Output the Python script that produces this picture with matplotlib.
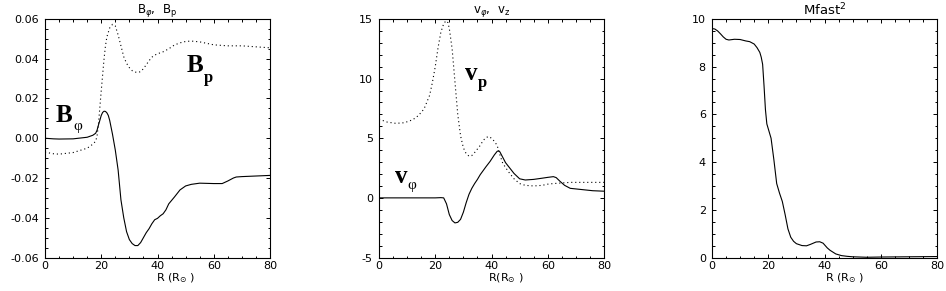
import matplotlib
matplotlib.use("Agg")
import matplotlib.pyplot as plt
from matplotlib.ticker import MultipleLocator, FormatStrFormatter

# ---------------- data ----------------
r1 = [0, 3, 5, 10, 15, 17, 18, 18.5, 19, 19.5, 20, 20.5, 21, 21.5, 22, 22.5, 23, 24, 25, 26,
      27, 28, 29, 30, 31, 32, 33, 34, 35, 36, 37, 38, 39, 40, 41, 42, 43, 44, 46, 48, 50,
      52, 55, 60, 63, 65, 67, 68, 70, 75, 80]
b_phi = [0.0, -0.0003, -0.0004, -0.0003, 0.0005, 0.0015, 0.0025, 0.004, 0.0066, 0.009, 0.0115,
         0.013, 0.0136, 0.0135, 0.0128, 0.0115, 0.009, 0.002, -0.006, -0.016,
         -0.031, -0.040, -0.047, -0.051, -0.053, -0.054, -0.054, -0.0525, -0.050, -0.0475,
         -0.0455, -0.043, -0.041, -0.0403, -0.039, -0.038, -0.036, -0.033, -0.0296, -0.026, -0.024,
         -0.0232, -0.0226, -0.0228, -0.0228, -0.0215, -0.020, -0.0195, -0.0193, -0.019, -0.0187]

r1p = [0, 3, 5, 10, 15, 17, 18, 18.5, 19, 19.5, 20, 20.5, 21, 21.5, 22, 23, 24, 25, 26, 27, 28,
       29, 30, 31, 32, 33, 34, 35, 36, 37, 38, 39, 40, 42, 44, 46, 48, 50, 52, 55, 60, 65,
       70, 75, 80]
b_p = [-0.007, -0.0078, -0.008, -0.0072, -0.005, -0.003, -0.0015, 0.001, 0.007, 0.0155, 0.024,
       0.032, 0.040, 0.0465, 0.051, 0.0555, 0.0573, 0.0565, 0.052, 0.0465, 0.041,
       0.0377, 0.0355, 0.034, 0.0333, 0.0331, 0.0335, 0.035, 0.037, 0.039, 0.0408, 0.0418,
       0.0425, 0.0435, 0.045, 0.0469, 0.048, 0.0487, 0.0489, 0.0485, 0.047, 0.0465,
       0.0465, 0.046, 0.0455]

r2p = [0, 3, 6, 9, 12, 14, 16, 18, 19, 20, 21, 22, 23, 23.8, 24.5, 25, 26, 27, 28, 29, 30, 31,
       32, 33, 34, 35, 36, 37, 38, 39, 40, 41, 42, 43, 44, 46, 48, 50, 52, 55, 58, 60, 62,
       65, 68, 72, 76, 80]
v_p = [6.6, 6.35, 6.25, 6.3, 6.55, 6.9, 7.45, 8.6, 9.7, 11.0, 12.6, 13.9, 14.6, 14.85, 14.7,
       14.2, 12.5, 9.75, 7.0, 5.2, 4.2, 3.7, 3.5, 3.55, 3.8, 4.1, 4.4, 4.8, 5.05, 5.15, 5.0,
       4.75, 4.4, 3.6, 2.9, 2.2, 1.6, 1.2, 1.05, 1.0, 1.05, 1.15, 1.2, 1.25, 1.3, 1.3,
       1.3, 1.3]

r2 = [0, 10, 20, 22, 23, 24, 25, 26, 27, 28, 29, 30, 31, 32, 33, 34, 35, 36, 38, 39.5, 41, 42,
      42.5, 43, 44, 45, 46, 48, 50, 52, 55, 58, 60, 62, 63, 64.4, 66, 68, 70, 72, 76, 80]
v_phi = [0, 0, 0, 0.02, 0, -0.5, -1.4, -1.9, -2.1, -2.05, -1.8, -1.2, -0.4, 0.3, 0.8, 1.2,
         1.55, 1.95, 2.6, 3.06, 3.6, 3.9, 3.95, 3.85, 3.4, 2.95, 2.65, 2.05, 1.6, 1.5, 1.55,
         1.65, 1.72, 1.78, 1.7, 1.38, 1.05, 0.8, 0.75, 0.7, 0.6, 0.56]

r3 = [0, 1, 2, 3, 4, 5, 6, 8, 10, 12, 13.4, 15, 16, 17, 17.5, 18, 18.5, 19, 19.5, 20, 21, 22,
      23, 24, 25, 26, 27, 28, 29, 30, 32, 33.6, 35, 37, 38.3, 39.5, 41, 42, 44, 46, 48, 50,
      55, 60, 70, 80]
mfast2 = [9.6, 9.58, 9.5, 9.38, 9.25, 9.15, 9.12, 9.15, 9.14, 9.08, 9.05, 8.95, 8.8, 8.6, 8.4,
          8.1, 7.2, 6.2, 5.6, 5.4, 5.0, 4.1, 3.1, 2.7, 2.35, 1.8, 1.2, 0.85, 0.68, 0.58, 0.5,
          0.49, 0.55, 0.65, 0.66, 0.6, 0.4, 0.3, 0.15, 0.08, 0.05, 0.03, 0.01, 0.02, 0.03, 0.04]

x_ticks = [0, 20, 40, 60, 80]
titles = [r'B$_{\varphi}$,  B$_{\rm p}$', r'v$_{\varphi}$,  v$_{\rm z}$', r'Mfast$^2$']
xlabels = [r'R (R$_{\odot}$ )', r'R(R$_{\odot}$ )', r'R (R$_{\odot}$ )']

# ---------------- figure ----------------
W, H = 946, 291
fig = plt.figure(figsize=(W / 100, H / 100), dpi=100)
plt.rcParams['font.family'] = ['DejaVu Sans']

lefts = [45, 379, 712]
top_px, bot_px, width_px = 19, 257.5, 225
axes = []
for lp in lefts:
    ax = fig.add_axes([lp / W, 1 - bot_px / H, width_px / W, (bot_px - top_px) / H])
    axes.append(ax)

dotted = (0, (1, 2.6))
lw = 0.8
serif = 'Liberation Serif'

def style(ax, ylim, ymaj, ymin, fmt, title, xlabel, tsize=8.5, xoff=0.08):
    ax.set_xlim(0, 80)
    ax.set_ylim(*ylim)
    ax.set_xticks(x_ticks)
    ax.xaxis.set_minor_locator(MultipleLocator(5))
    ax.yaxis.set_major_locator(MultipleLocator(ymaj))
    ax.yaxis.set_minor_locator(MultipleLocator(ymin))
    ax.yaxis.set_major_formatter(FormatStrFormatter(fmt))
    ax.tick_params(which='both', direction='in', top=True, right=True, width=0.7,
                   labelsize=8)
    ax.tick_params(which='major', length=3.2)
    ax.tick_params(which='minor', length=1.8)
    ax.tick_params(axis='x', pad=2.5)
    ax.tick_params(axis='y', pad=4.5)
    for s in ax.spines.values():
        s.set_linewidth(0.8)
    ax.set_title(title, fontsize=tsize, pad=3)
    ax.set_xlabel(xlabel, fontsize=8)
    ax.xaxis.set_label_coords(0.5 + xoff, -0.058)

# panel 1
ax = axes[0]
ax.plot(r1, b_phi, color='black', lw=lw)
ax.plot(r1p, b_p, color='black', lw=lw, linestyle=dotted)
style(ax, (-0.06, 0.06), 0.02, 0.005, '%.2f', titles[0], xlabels[0])
ax.text(3.9, 0.0081, 'B', fontsize=18, fontweight='bold', family=serif, ha='left', va='baseline')
ax.text(10.0, 0.0058, 'φ', fontsize=11, family=serif, ha='left', va='center')
ax.text(50.3, 0.0333, 'B', fontsize=18, fontweight='bold', family=serif, ha='left', va='baseline')
ax.text(56.6, 0.0302, 'p', fontsize=12, fontweight='bold', family=serif, ha='left', va='center')

# panel 2
ax = axes[1]
ax.plot(r2, v_phi, color='black', lw=lw)
ax.plot(r2p, v_p, color='black', lw=lw, linestyle=dotted)
style(ax, (-5, 15), 5, 1, '%d', titles[1], xlabels[1], xoff=0.065)
ax.text(30.6, 9.9, 'v', fontsize=18, fontweight='bold', family=serif, ha='left', va='baseline')
ax.text(35.0, 9.6, 'p', fontsize=12, fontweight='bold', family=serif, ha='left', va='center')
ax.text(5.7, 1.28, 'v', fontsize=18, fontweight='bold', family=serif, ha='left', va='baseline')
ax.text(10.2, 1.05, 'φ', fontsize=11, family=serif, ha='left', va='center')

# panel 3
ax = axes[2]
ax.plot(r3, mfast2, color='black', lw=lw)
style(ax, (0, 10), 2, 0.5, '%d', titles[2], xlabels[2], tsize=9.5, xoff=0.09)

fig.savefig('out.png', dpi=100)
